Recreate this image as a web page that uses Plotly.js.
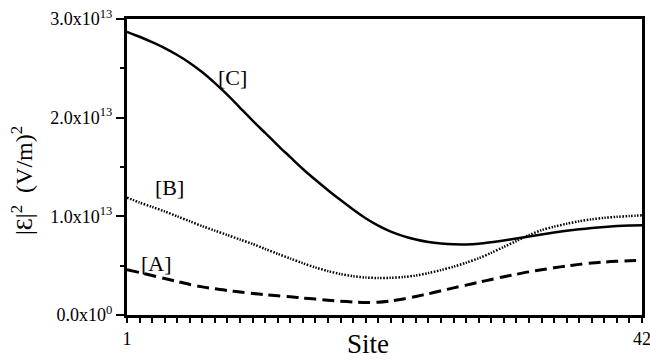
<!DOCTYPE html>
<html>
<head>
<meta charset="utf-8">
<script src="https://cdn.plot.ly/plotly-3.0.1.min.js"></script>
<style>html,body{margin:0;padding:0;background:#fff;}#chart{width:650px;height:364px;}</style>
</head>
<body>
<div id="chart"></div>
<script>
// Site index 1..42
const sites = Array.from({length: 42}, (_, i) => i + 1);
// |E|^2 values in units of 1e13 (V/m)^2
const seriesA = [0.46,0.43,0.40,0.37,0.34,0.31,0.285,0.265,0.248,0.232,0.218,0.206,0.195,0.185,0.172,0.161,0.150,0.140,0.132,0.127,0.130,0.143,0.163,0.188,0.215,0.245,0.275,0.303,0.332,0.36,0.388,0.413,0.437,0.458,0.478,0.497,0.513,0.527,0.537,0.545,0.55,0.552];
const seriesB = [1.19,1.14,1.095,1.05,1.00,0.95,0.90,0.855,0.81,0.765,0.72,0.67,0.62,0.572,0.525,0.482,0.445,0.415,0.393,0.38,0.375,0.377,0.385,0.40,0.425,0.455,0.49,0.53,0.575,0.63,0.69,0.75,0.81,0.86,0.895,0.925,0.95,0.97,0.985,0.995,1.003,1.01];
const seriesC = [2.87,2.82,2.765,2.705,2.635,2.555,2.46,2.35,2.23,2.10,1.97,1.845,1.72,1.60,1.48,1.37,1.265,1.165,1.07,0.98,0.905,0.845,0.80,0.765,0.74,0.725,0.716,0.715,0.722,0.737,0.755,0.775,0.795,0.815,0.835,0.853,0.868,0.882,0.893,0.902,0.908,0.91];
const seriesNames = ['[A]', '[B]', '[C]'];
const yTickVals = [0, 1, 2, 3];
const yTickText = ['0.0x10<sup>0</sup>', '1.0x10<sup>13</sup>', '2.0x10<sup>13</sup>', '3.0x10<sup>13</sup>'];
const yMinorVals = [0.5, 1.5, 2.5];
const xTickVals = [1, 42];
const xTickText = ['1', '42'];
const xMinorVals = sites;
const xTitle = 'Site';
const yTitle = '|\u0190|<sup>2</sup>\u00a0\u00a0(V/m)<sup>2</sup>';

const font = 'Liberation Serif';

const traces = [
  {x: sites, y: seriesA, mode: 'lines', name: seriesNames[0], line: {color: '#000', width: 3, dash: '12px,6px', shape: 'spline', smoothing: 0.8}},
  {x: sites, y: seriesB, mode: 'lines', name: seriesNames[1], line: {color: '#000', width: 2.5, dash: '1.5px,1.5px', shape: 'spline', smoothing: 0.8}},
  {x: sites, y: seriesC, mode: 'lines', name: seriesNames[2], line: {color: '#000', width: 2.5, shape: 'spline', smoothing: 0.8}}
];

const layout = {
  width: 650, height: 364,
  margin: {l: 127, r: 8, t: 19, b: 49},
  paper_bgcolor: '#fff', plot_bgcolor: '#fff',
  showlegend: false,
  font: {family: font, color: '#000', size: 18},
  xaxis: {
    range: [1, 42], showgrid: false, zeroline: false,
    showline: true, linecolor: '#000', linewidth: 3, mirror: true,
    tickmode: 'array', tickvals: xTickVals, ticktext: xTickText,
    ticks: 'outside', ticklen: 5, tickwidth: 2, tickcolor: '#000',
    minor: {tickmode: 'array', tickvals: xMinorVals, ticks: 'outside', ticklen: 5, tickwidth: 2, tickcolor: '#000', showgrid: false},
    ticklabeloverflow: 'allow',
    tickfont: {family: font, size: 18, color: '#000'}
  },
  yaxis: {
    range: [0, 3], showgrid: false, zeroline: false,
    showline: true, linecolor: '#000', linewidth: 3, mirror: true,
    tickmode: 'array', tickvals: yTickVals, ticktext: yTickText,
    ticks: 'outside', ticklen: 8, tickwidth: 2, tickcolor: '#000',
    minor: {tickmode: 'array', tickvals: yMinorVals, ticks: 'outside', ticklen: 4, tickwidth: 2, tickcolor: '#000', showgrid: false},
    tickfont: {family: font, size: 18, color: '#000'}
  },
  annotations: [
    {x: 3.31, y: 0.517, xref: 'x', yref: 'y', xanchor: 'center', yanchor: 'middle', text: seriesNames[0], showarrow: false, font: {family: font, size: 22, color: '#000'}},
    {x: 4.42, y: 1.297, xref: 'x', yref: 'y', xanchor: 'center', yanchor: 'middle', text: seriesNames[1], showarrow: false, font: {family: font, size: 22, color: '#000'}},
    {x: 9.36, y: 2.41, xref: 'x', yref: 'y', xanchor: 'center', yanchor: 'middle', text: seriesNames[2], showarrow: false, font: {family: font, size: 22, color: '#000'}},
    {x: -0.204, y: 0.456, xref: 'paper', yref: 'paper', xanchor: 'center', yanchor: 'middle', text: yTitle, textangle: -90, showarrow: false, font: {family: font, size: 24, color: '#000'}},
    {x: 0.468, y: -0.098, xref: 'paper', yref: 'paper', xanchor: 'center', yanchor: 'middle', text: xTitle, showarrow: false, font: {family: font, size: 27, color: '#000'}}
  ]
};

Plotly.newPlot('chart', traces, layout, {staticPlot: true, displayModeBar: false});
</script>
</body>
</html>
